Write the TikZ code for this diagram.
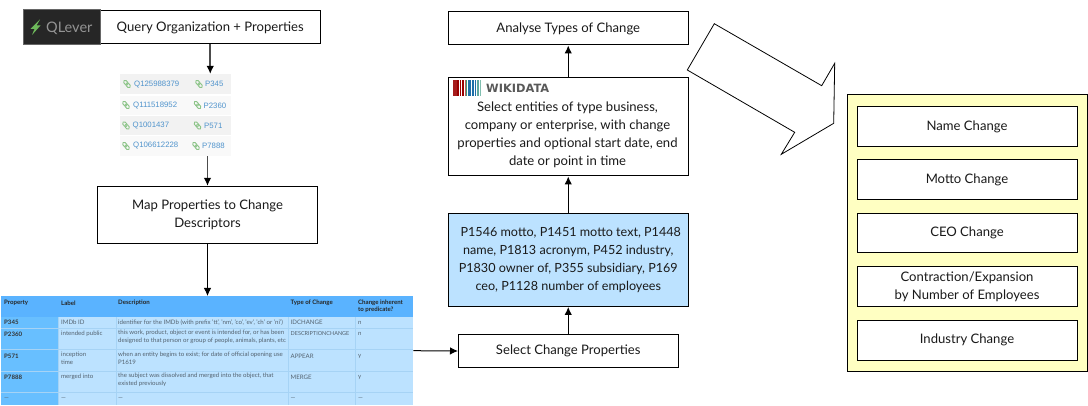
\documentclass[tikz,border=0pt]{standalone}
\usepackage{fontspec}
\setmainfont{Lato}
\newfontfamily\arialfont{Liberation Sans}
\newfontfamily\logofont{DejaVu Sans}
\usetikzlibrary{arrows.meta}
\definecolor{linkblue}{HTML}{4F93CC}
\definecolor{linkgreen}{HTML}{8CC488}
\definecolor{boltgreen}{HTML}{6DB85A}
\definecolor{hdrblue}{HTML}{5AB3FF}
\definecolor{colblue}{HTML}{68BFFF}
\definecolor{rowblue}{HTML}{BCE2FF}
\definecolor{gridblue}{HTML}{A6D3F5}
\definecolor{panelyellow}{HTML}{FFFFC2}
\definecolor{qdark}{HTML}{262626}
\definecolor{inktext}{HTML}{1A1A1A}
\definecolor{tabletext}{HTML}{53626F}
\definecolor{wred}{HTML}{A61C1C}
\definecolor{wdred}{HTML}{990000}
\definecolor{wpink}{HTML}{C06060}
\definecolor{wgreen}{HTML}{3E9A77}
\definecolor{wblue}{HTML}{1F6FA8}
\definecolor{wteal}{HTML}{5FA8A0}
\definecolor{wpale}{HTML}{80BFB0}
\tikzset{
  x=1pt,y=-1pt,
  boxbase/.style={draw=black,line width=1pt,anchor=north west,inner sep=0pt,align=center,text=inktext,
    font=\fontsize{13.1}{18}\selectfont},
  plainbox/.style={boxbase,fill=white},
  bluebox/.style={boxbase,fill=rowblue,font=\fontsize{12.6}{18}\selectfont},
  arr/.style={line width=1pt,-{Latex[length=8pt,width=7.5pt]}},
  greyarr/.style={draw=black!70,line width=1.6pt,-{Latex[length=8pt,width=7.5pt,black]}},
  tcell/.style={anchor=west,inner sep=0pt,font=\fontsize{6.1}{7.6}\selectfont,text=tabletext,align=left},
  thead/.style={tcell,font=\fontsize{6.1}{7.6}\selectfont\bfseries,text=black!85},
  tprop/.style={tcell,font=\fontsize{6.1}{7.6}\selectfont\bfseries,text=black!80},
  qlink/.style={anchor=west,inner sep=0pt,font=\fontsize{7.8}{9}\arialfont\selectfont,text=linkblue},
  link/.pic={\draw[linkgreen,line width=.9pt,rotate=-50,rounded corners=1.4pt] (-4.4,-1.6) rectangle (0.9,1.6);
             \draw[linkgreen,line width=.9pt,rotate=-50,rounded corners=1.4pt] (-0.9,-1.6) rectangle (4.4,1.6);},
}
\begin{document}
\begin{tikzpicture}
\useasboundingbox (0,0) rectangle (1088,406);
\fill[white] (0,0) rectangle (1088,406);

% top left
\node[plainbox,minimum width=219.5pt,minimum height=33pt] (query) at (100,10.5) {Query Organization + Properties};
\node[anchor=north west,fill=qdark,draw=black!60,line width=.5pt,inner sep=0pt,minimum width=77pt,minimum height=35pt] (qlever) at (23,9) {};
\fill[boltgreen] (40,19.5) -- (30.5,29) -- (34.5,29) -- (32,35) -- (40.5,25.5) -- (36.5,25.5) -- cycle;
\node[anchor=west,inner sep=0pt,text=black!42,font=\fontsize{14.5}{15}\selectfont] (qname) at (46,28) {QLever};

% small result table
\node[anchor=north west,fill=white,inner sep=0pt,minimum width=111pt,minimum height=82pt] (hits) at (119.5,74) {};
\fill[black!5] (120,74) rectangle (230.5,94.3);
\fill[black!2.5] (120,96) rectangle (230.5,115);
\fill[black!5] (120,116) rectangle (230.5,135);
\fill[black!2.5] (120,136) rectangle (230.5,156);
\foreach \ya/\xa/\xb in {84/127/199,105/126/197.5,125.5/126/197.5,146/126/196}
  {\pic at (\xa,\ya) {link}; \pic at (\xb,\ya) {link};}
\node[qlink] (q1) at (134,84.5) {Q125988379};
\node[qlink] (q2) at (133,105.5) {Q111518952};
\node[qlink] (q3) at (132.5,126) {Q1001437};
\node[qlink] (q4) at (133,146) {Q106612228};
\node[qlink] (p1) at (205,84) {P345};
\node[qlink] (p2) at (203.5,105.5) {P2360};
\node[qlink] (p3) at (204,125.5) {P571};
\node[qlink] (p4) at (202,146) {P7888};

\node[plainbox,minimum width=220pt,minimum height=57pt] (map) at (97,186) {Map Properties to Change\\Descriptors};

% big table
\node[anchor=north west,fill=rowblue,inner sep=0pt,minimum width=412pt,minimum height=109pt] (table) at (1,296) {};
\fill[hdrblue] (1,296) rectangle (413,317);
\fill[colblue] (1,317) rectangle (58,405);
\foreach \yy in {328,349,371,392}
  \draw[gridblue,line width=.6pt] (1,\yy) -- (413,\yy);
\foreach \xx in {58,116,288,355}
  \draw[gridblue,line width=.6pt] (\xx,317) -- (\xx,405);
\node[thead] (h1) at (4,303) {Property};
\node[thead] (h2) at (61,303) {Label};
\node[thead] (h3) at (118,303) {Description};
\node[thead] (h4) at (290.5,303) {Type of Change};
\node[thead,anchor=north west] (h5) at (358,299.5) {Change inherent\\to predicate?};
\node[tprop] (r1a) at (4,322.5) {P345};
\node[tcell] (r1b) at (61,322.5) {IMDb ID};
\node[tcell] (r1c) at (118,322.5) {identifier for the IMDb (with prefix 'tt', 'nm', 'co', 'ev', 'ch' or 'ni')};
\node[tcell] (r1d) at (290.5,322.5) {IDCHANGE};
\node[tcell] (r1e) at (358,322.5) {n};
\node[tprop] (r2a) at (4,334) {P2360};
\node[tcell] (r2b) at (61,334) {intended public};
\node[tcell,anchor=north west] (r2c) at (118,330) {this work, product, object or event is intended for, or has been\\designed to that person or group of people, animals, plants, etc};
\node[tcell,font=\fontsize{5.5}{7}\selectfont] (r2d) at (290.5,334) {DESCRIPTIONCHANGE};
\node[tcell] (r2e) at (358,334) {n};
\node[tprop] (r3a) at (4,356) {P571};
\node[tcell,anchor=north west] (r3b) at (61,352) {inception\\time};
\node[tcell,anchor=north west] (r3c) at (118,352) {when an entity begins to exist; for date of official opening use\\P1619};
\node[tcell] (r3d) at (290.5,356) {APPEAR};
\node[tcell] (r3e) at (358,356) {y};
\node[tprop] (r4a) at (4,377) {P7888};
\node[tcell] (r4b) at (61,377) {merged into};
\node[tcell,anchor=north west] (r4c) at (118,373) {the subject was dissolved and merged into the object, that\\existed previously};
\node[tcell] (r4d) at (290.5,377) {MERGE};
\node[tcell] (r4e) at (358,377) {y};
\foreach \xx/\nm in {4/a,61/b,118/c,290.5/d,358/e}
  \node[tcell] (r5\nm) at (\xx,399) {---};

% middle column
\node[plainbox,minimum width=219.5pt,minimum height=33pt] (select) at (458,334) {Select Change Properties};
\node[bluebox,minimum width=240.5pt,minimum height=93pt] (props) at (447.5,213) {\hspace*{5pt}P1546 motto, P1451 motto text, P1448\\name, P1813 acronym, P452 industry,\\P1830 owner of, P355 subsidiary, P169\\ceo, P1128 number of employees};
\node[plainbox,minimum width=240.5pt,minimum height=98pt] (wiki) at (447.5,77.5) {};
\foreach \xa/\wa/\ca in {453.3/1.2/wred,455.3/1.2/wred,457.3/2/wdred,460.2/1/wdred,461.8/2/wdred,464.6/.8/wpink,466/1/wgreen,467.5/2/wblue,470.3/1/wblue,472/2.2/wblue,475/1/wblue,476.6/1/wteal,478.2/.8/wteal,479.6/1.2/wpale}
  \fill[color=\ca] (\xa,80) rectangle ++(\wa,16);
\node[anchor=west,inner sep=0pt,text=black!65,font=\fontsize{11.4}{12}\logofont\bfseries\selectfont] (wname) at (486,88) {WIKIDATA};
\node[anchor=center,inner sep=0pt,align=center,text=inktext,font=\fontsize{13.1}{18}\selectfont] (wikitext) at (567.5,135) {Select entities of type business,\\company or enterprise, with change\\properties and optional start date, end\\date or point in time};
\node[plainbox,minimum width=240.5pt,minimum height=33pt] (analyse) at (447.5,11.5) {Analyse Types of Change};

% big hollow arrow
\draw[black,fill=white,line width=.8pt,line join=miter] (714.3,23.7) -- (821.7,85.7) -- (834.7,63.3) -- (833.7,123.3) -- (781.3,154.3) -- (794.7,132.3) -- (687.3,70) -- cycle;

% right panel
\node[draw=black,line width=1pt,fill=panelyellow,anchor=north west,inner sep=0pt,minimum width=240pt,minimum height=276.5pt] (panel) at (846.5,94.5) {};
\node[plainbox,minimum width=220pt,minimum height=40pt] (c1) at (856.5,106.5) {Name Change};
\node[plainbox,minimum width=220pt,minimum height=40pt] (c2) at (856.5,159.5) {Motto Change};
\node[plainbox,minimum width=220pt,minimum height=39.5pt] (c3) at (856.5,213) {CEO Change};
\node[plainbox,minimum width=220pt,minimum height=39.5pt] (c4) at (856.5,266.5) {Contraction/Expansion\\by Number of Employees};
\node[plainbox,minimum width=220pt,minimum height=39.5pt] (c5) at (856.5,320) {Industry Change};

% connectors
\draw[greyarr] (query.south) -- (query.south |- hits.north);
\draw[greyarr] (hits.south -| map.north) -- (map.north);
\draw[arr] (map.south) -- (map.south |- table.north);
\draw[arr] (table.east) -- (select.west);
\draw[arr] (select.north) -- (select.north |- props.south);
\draw[arr] (props.north) -- (wiki.south);
\draw[arr] (wiki.north) -- (analyse.south);
\end{tikzpicture}
\end{document}
